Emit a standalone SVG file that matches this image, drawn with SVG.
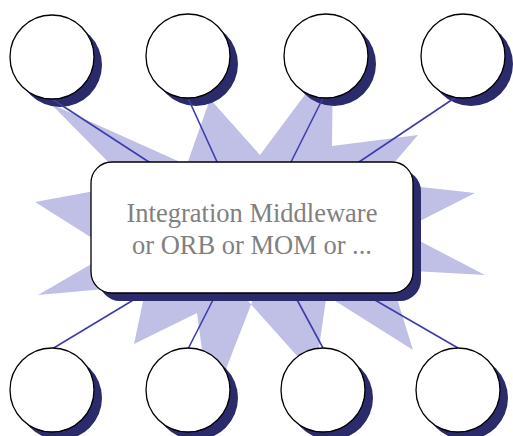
<svg xmlns="http://www.w3.org/2000/svg" width="513" height="436" viewBox="0 0 513 436">
<style>
.star{fill:#c0c0e6;stroke:none}
.shadow{fill:#2b2a6b;stroke:none}
.node{fill:#ffffff;stroke:#000000;stroke-width:1.3}
.conn{stroke:#3c3cac;stroke-width:1.6;fill:none}
.label{font-family:"Liberation Serif","Times New Roman",serif;font-size:26.5px;fill:#808080;text-anchor:middle}
</style>
<rect width="513" height="436" fill="#ffffff"/>
<g id="starburst">
<path class="star" d="M51,104 L116,170 L252,230 L198,170 Z
M185,170 L210,99 L260,155 L333,57 L332,146 L418,135 L388,170 L252,230 Z
M475,193 L412,186 L252,230 L412,225 Z
M485,275 L412,237 L252,230 L412,271 Z
M413,350 L321,292 L252,230 L395,292 Z
M315,376 L240,292 L252,230 L327,292 Z
M145,292 L134,344 L197,313 L210,410 L256,292 L252,230 Z
M38,295 L100,259 L252,230 L105,289 Z
M35,202 L100,190 L252,230 L100,243 Z"/>
</g>
<g id="shadows">
<circle class="shadow" cx="60" cy="65" r="42"/>
<circle class="shadow" cx="196" cy="64" r="42"/>
<circle class="shadow" cx="334" cy="64" r="42"/>
<circle class="shadow" cx="471" cy="64" r="42"/>
<circle class="shadow" cx="60" cy="398" r="42"/>
<circle class="shadow" cx="196" cy="398" r="42"/>
<circle class="shadow" cx="331" cy="398" r="42"/>
<circle class="shadow" cx="466" cy="398" r="42"/>
</g>
<g id="connectors">
<line class="conn" x1="52" y1="99" x2="152" y2="164"/>
<line class="conn" x1="188" y1="98" x2="218" y2="164"/>
<line class="conn" x1="323" y1="98" x2="290" y2="164"/>
<line class="conn" x1="456" y1="97" x2="356" y2="164"/>
<line class="conn" x1="52" y1="349" x2="140" y2="296"/>
<line class="conn" x1="188" y1="349" x2="215" y2="296"/>
<line class="conn" x1="323" y1="348" x2="295" y2="296"/>
<line class="conn" x1="458" y1="348" x2="368" y2="296"/>
</g>
<g id="middleware">
<rect class="shadow" x="99" y="170" width="322" height="131" rx="21" ry="21"/>
<rect class="node" x="91" y="162" width="322" height="131" rx="21" ry="21"/>
<text class="label" x="252" y="222">Integration Middleware</text>
<text class="label" x="252" y="254">or ORB or MOM or ...</text>
</g>
<g id="node1"><circle class="node" cx="52" cy="57" r="42"/></g>
<g id="node2"><circle class="node" cx="188" cy="56" r="42"/></g>
<g id="node3"><circle class="node" cx="326" cy="56" r="42"/></g>
<g id="node4"><circle class="node" cx="463" cy="56" r="42"/></g>
<g id="node5"><circle class="node" cx="52" cy="390" r="42"/></g>
<g id="node6"><circle class="node" cx="188" cy="390" r="42"/></g>
<g id="node7"><circle class="node" cx="323" cy="390" r="42"/></g>
<g id="node8"><circle class="node" cx="458" cy="390" r="42"/></g>
</svg>
